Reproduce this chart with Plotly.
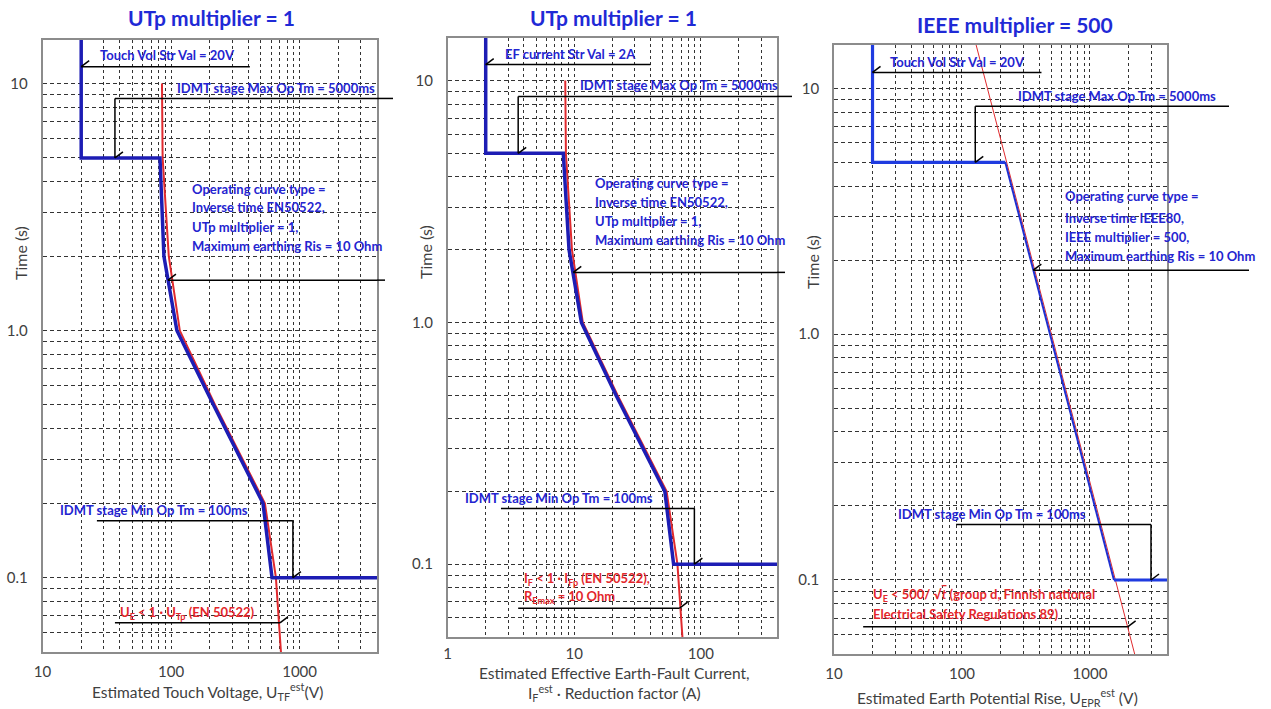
import numpy as np
import plotly.graph_objects as go

W, H = 1271, 709

# ---------------- data ----------------
# EN 50522 permissible touch voltage (time s -> voltage V)
en_t = [10, 5, 2, 1, 0.5, 0.2, 0.1, 0.05]
en_u = [85, 86, 96, 117, 220, 537, 654, 716]

# Panel 1: relay operating curve vs. estimated touch voltage
p1_t = [15, 5, 5, 2, 1, 0.5, 0.2, 0.1, 0.1]
p1_u = [20, 20, 82, 88, 111, 214, 519, 610, 4000]

# Panel 2: EF current limit (R_Emax = 10 Ohm) and relay curve
p2_lim_i = [8.5, 8.6, 9.6, 11.7, 22, 53.7, 65.4, 71.6]
p2_t = [15, 5, 5, 2, 1, 0.5, 0.2, 0.1, 0.1]
p2_i = [2, 2, 8.2, 9.1, 11.4, 21.4, 52, 61, 400]

# Panel 3: Finnish group d limit and IEEE80 relay curve
p3_lim_t = [15, 10, 5, 2, 1, 0.5, 0.2, 0.1, 0.05]
p3_lim_u = [129, 158, 224, 354, 500, 707, 1118, 1581, 2236]
p3_step1_t = [15, 5, 5]          # start value / max operate time
p3_step1_u = [20, 20, 218]
p3_slope_t = [5, 0.1]            # inverse-time section
p3_slope_u = [218, 1540]
p3_step2_t = [0.1, 0.1]          # min operate time
p3_step2_u = [1540, 4000]

# axis ranges
x_ranges = [(10, 4000), (1, 400), (10, 4000)]
y_range = (0.05, 15)

# decade ticks and minor gridlines
x_major = [[10, 100, 1000], [1, 10, 100], [10, 100, 1000]]
x_minor = [
    [20, 30, 40, 50, 60, 70, 80, 90, 200, 300, 400, 500, 600, 700, 800, 900, 2000, 3000],
    [2, 3, 4, 5, 6, 7, 8, 9, 20, 30, 40, 50, 60, 70, 80, 90, 200, 300],
    [20, 30, 40, 50, 60, 70, 80, 90, 200, 300, 400, 500, 600, 700, 800, 900, 2000, 3000],
]
y_major = [0.1, 1, 10]
y_major_text = ["0.1", "1.0", "10"]
y_minor = [0.05, 0.06, 0.07, 0.08, 0.09, 0.2, 0.3, 0.4, 0.5, 0.6, 0.7, 0.8, 0.9,
           2, 3, 4, 5, 6, 7, 8, 9]

# guide callouts: (x points, t points, tick point, extension beyond right frame in px)
guides = [
    [([20, 410], [11.7, 11.7], (20, 11.7), 0),
     ([36.6, 36.6, 4000], [5, 8.7, 8.7], (36.6, 5), 16),
     ([94.6, 4000], [1.6, 1.6], (94.6, 1.6), 8),
     ([26.5, 887, 887], [0.17, 0.17, 0.1], (887, 0.1), 0),
     ([36.6, 703], [0.0656, 0.0656], (703, 0.0656), 0)],
    [([2, 40], [11.65, 11.65], (2, 11.65), 0),
     ([3.61, 3.61, 400], [5, 8.6, 8.6], (3.61, 5), 15),
     ([9.83, 400], [1.61, 1.61], (9.83, 1.61), 8),
     ([2.64, 89, 89], [0.17, 0.17, 0.1], (89, 0.1), 0),
     ([3.61, 68], [0.0658, 0.0658], (68, 0.0658), 0)],
    [([20, 418], [11.6, 11.6], (20, 11.6), 0),
     ([127, 127, 4000], [5, 8.45, 8.45], (127, 5), 62),
     ([361, 4000], [1.82, 1.82], (361, 1.82), 82),
     ([90, 3000, 3000], [0.168, 0.168, 0.1], (3000, 0.1), 0),
     ([16.9, 1969], [0.0645, 0.0645], (1969, 0.0645), 0)],
]

# callout texts: (x, t, text, colour key)
texts = [
    [(27, 13.0, "Touch Vol Str Val = 20V", "b"),
     (107, 9.63, "IDMT stage Max Op Tm = 5000ms", "b"),
     (140, 3.74, "Operating curve type =", "b"),
     (140, 3.16, "Inverse time EN50522,", "b"),
     (140, 2.62, "UTp multiplier = 1,", "b"),
     (140, 2.19, "Maximum earthing Ris = 10 Ohm", "b"),
     (13.2, 0.187, "IDMT stage Min Op Tm = 100ms", "b"),
     (38.6, 0.072, "U<sub>E</sub> &lt; 1 · U<sub>Tp</sub> (EN 50522)", "r")],
    [(2.74, 12.9, "EF current Str Val = 2A", "b"),
     (10.77, 9.58, "IDMT stage Max Op Tm = 5000ms", "b"),
     (14.1, 3.76, "Operating curve type =", "b"),
     (14.1, 3.14, "Inverse time EN50522,", "b"),
     (14.1, 2.62, "UTp multiplier = 1,", "b"),
     (14.1, 2.19, "Maximum earthing Ris = 10 Ohm", "b"),
     (1.32, 0.188, "IDMT stage Min Op Tm = 100ms", "b"),
     (3.88, 0.087, "I<sub>F</sub> &lt; 1 · I<sub>Fp</sub> (EN 50522),", "r"),
     (3.88, 0.0733, "R<sub>Emax</sub> = 10 Ohm", "r")],
    [(26.5, 12.8, "Touch Vol Str Val = 20V", "b"),
     (266, 9.28, "IDMT stage Max Op Tm = 5000ms", "b"),
     (621, 3.66, "Operating curve type =", "b"),
     (621, 2.97, "Inverse time IEEE80,", "b"),
     (621, 2.49, "IEEE multiplier = 500,", "b"),
     (621, 2.08, "Maximum earthing Ris = 10 Ohm", "b"),
     (30.6, 0.186, "IDMT stage Min Op Tm = 100ms", "b"),
     (19.5, 0.0869, "U<sub>E</sub> &lt; 500/ √<span style='text-decoration:overline'><i>t</i></span> (group d, Finnish national", "r"),
     (19.5, 0.0727, "Electrical Safety Regulations 89)", "r")],
]

titles = ["UTp multiplier = 1", "UTp multiplier = 1", "IEEE multiplier = 500"]
x_titles = [
    "Estimated Touch Voltage, U<sub>TF</sub><sup>est</sup>(V)",
    "Estimated Effective Earth-Fault Current,<br>I<sub>F</sub><sup>est</sup> · Reduction factor (A)",
    "Estimated Earth Potential Rise, U<sub>EPR</sub><sup>est</sup> (V)",
]

# ---------------- layout geometry (pixels) ----------------
plot_px = [(42.5, 377, 40, 652), (447.6, 777, 38, 637), (834, 1167, 45, 654)]
title_px = [(211, 18), (613, 18), (1015, 25)]
ytitle_px = [(20, 253), (425, 252), (812, 262)]
xtitle_px = [(207, 691), (614, 684), (997, 697)]
x_standoff = [5, 2, 5]

BLUE_TXT = "#2424d0"
RED_TXT = "#e3262b"
RED_LINE = "#e02a2e"
FONT = "Lato"
GREY = "#404040"

fig = go.Figure()


def add_line(xs, ts, ax, color, width):
    fig.add_trace(go.Scatter(x=xs, y=ts, mode="lines", line=dict(color=color, width=width),
                             xaxis="x" + ax, yaxis="y" + ax, showlegend=False, hoverinfo="skip"))


# panel 1
add_line(en_u, en_t, "", RED_LINE, 2)
add_line(p1_u, p1_t, "", "#1d1db4", 3.5)
# panel 2
add_line(p2_lim_i, en_t, "2", RED_LINE, 2)
add_line(p2_i, p2_t, "2", "#1d1db4", 3.5)
# panel 3
add_line(p3_lim_u, p3_lim_t, "3", RED_LINE, 1)
add_line(p3_step1_u, p3_step1_t, "3", "#1f3be0", 3.2)
add_line(p3_slope_u, p3_slope_t, "3", "#1f2fd0", 2)
add_line(p3_step2_u, p3_step2_t, "3", "#1f3be0", 3.2)

shapes = []
annotations = []
for k in range(3):
    ax = "" if k == 0 else str(k + 1)
    xr, yr = "x" + ax, "y" + ax
    x0p, x1p, y0p, y1p = plot_px[k]
    for xs, ts, tick, ext in guides[k]:
        for i in range(len(xs) - 1):
            shapes.append(dict(type="line", xref=xr, yref=yr, x0=xs[i], y0=ts[i], x1=xs[i + 1], y1=ts[i + 1],
                               line=dict(color="black", width=1.5), layer="above"))
        if ext:
            shapes.append(dict(type="line", xref=xr + " domain", yref=yr, x0=1, x1=1 + ext / (x1p - x0p),
                               y0=ts[-1], y1=ts[-1], line=dict(color="black", width=1.5), layer="above"))
        shapes.append(dict(type="line", xref=xr, yref=yr, xsizemode="pixel", ysizemode="pixel",
                           xanchor=tick[0], yanchor=tick[1], x0=-8, x1=8, y0=-6, y1=6,
                           line=dict(color="black", width=1.5), layer="above"))
    for xv, tv, txt, col in texts[k]:
        annotations.append(dict(xref=xr, yref=yr, x=np.log10(xv), y=np.log10(tv), text=txt,
                                showarrow=False, xanchor="left", yanchor="middle",
                                font=dict(family=FONT, size=13, color=BLUE_TXT if col == "b" else RED_TXT,
                                          weight="bold")))
    tx, ty = title_px[k]
    annotations.append(dict(xref="paper", yref="paper", x=tx / W, y=1 - ty / H, text=titles[k],
                            showarrow=False, xanchor="center", yanchor="middle",
                            font=dict(family=FONT, size=21, color="#1f2ad6", weight="bold")))
    yx, yy = ytitle_px[k]
    annotations.append(dict(xref="paper", yref="paper", x=yx / W, y=1 - yy / H, text="Time (s)",
                            showarrow=False, xanchor="center", yanchor="middle", textangle=-90,
                            font=dict(family=FONT, size=16, color=GREY)))
    xx, xy = xtitle_px[k]
    annotations.append(dict(xref="paper", yref="paper", x=xx / W, y=1 - xy / H, text=x_titles[k],
                            showarrow=False, xanchor="center", yanchor="middle",
                            font=dict(family=FONT, size=15.5, color=GREY)))

layout = dict(width=W, height=H, margin=dict(l=0, r=0, t=0, b=0),
              paper_bgcolor="white", plot_bgcolor="white",
              shapes=shapes, annotations=annotations, showlegend=False)

GRID = dict(gridcolor="#333333", gridwidth=1)

for k in range(3):
    ax = "" if k == 0 else str(k + 1)
    x0p, x1p, y0p, y1p = plot_px[k]
    lo, hi = x_ranges[k]
    layout["xaxis" + ax] = dict(
        type="log", domain=[x0p / W, x1p / W], range=[np.log10(lo), np.log10(hi)],
        anchor="y" + ax, tickmode="array", tickvals=x_major[k],
        ticktext=[str(v) for v in x_major[k]],
        showgrid=True, griddash="3px,3px", **GRID,
        minor=dict(tickmode="array", tickvals=x_minor[k], showgrid=True, griddash="3px,3px", ticks="", **GRID),
        showline=True, mirror=True, linecolor="#8c8c8c", linewidth=1.5,
        ticks="", zeroline=False, automargin=False, ticklabelstandoff=x_standoff[k],
        tickfont=dict(family=FONT, size=15, color=GREY))
    layout["yaxis" + ax] = dict(
        type="log", domain=[1 - y1p / H, 1 - y0p / H], range=[np.log10(y_range[0]), np.log10(y_range[1])],
        anchor="x" + ax, tickmode="array", tickvals=y_major, ticktext=y_major_text,
        showgrid=True, griddash="4px,3px", **GRID,
        minor=dict(tickmode="array", tickvals=y_minor, showgrid=True, griddash="4px,3px", ticks="", **GRID),
        showline=True, mirror=True, linecolor="#8c8c8c", linewidth=1.5,
        ticks="", zeroline=False, automargin=False, ticklabelstandoff=10,
        tickfont=dict(family=FONT, size=15, color=GREY))

fig.update_layout(**layout)
fig.write_html("out.html")
